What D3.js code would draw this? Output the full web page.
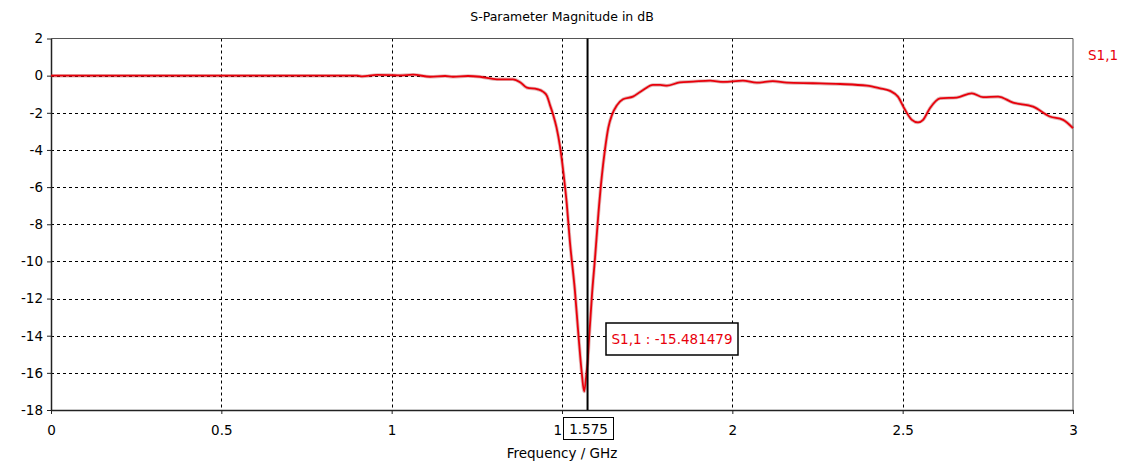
<html>
<head>
  <meta charset="utf-8">
  <script src="https://d3js.org/d3.v7.min.js"></script>
  <style>
    body { margin: 0; background: #fff; }
    text { font-family: "DejaVu Sans", Verdana, sans-serif; }
  </style>
</head>
<body>
  <svg id="chart" width="1126" height="464"></svg>
  <script>
    // S1,1 magnitude (dB)
    const freqs = [0, 0.5, 0.9, 0.913, 0.957, 0.995, 1.024, 1.063, 1.113, 1.157, 1.18, 1.224, 1.259, 1.309, 1.356,
      1.377, 1.397, 1.427, 1.444, 1.456, 1.465, 1.474, 1.484, 1.494, 1.504, 1.514, 1.523, 1.538, 1.548, 1.558,
      1.565, 1.572, 1.575, 1.58, 1.588, 1.597, 1.607, 1.617, 1.626, 1.636, 1.647, 1.661, 1.679, 1.708, 1.738,
      1.767, 1.788, 1.808, 1.846, 1.885, 1.935, 1.973, 2.031, 2.072, 2.119, 2.16, 2.237, 2.316, 2.395, 2.433,
      2.463, 2.486, 2.507, 2.527, 2.545, 2.56, 2.58, 2.61, 2.659, 2.703, 2.736, 2.78, 2.824, 2.883, 2.932,
      2.971, 3.0];
    const s11 = [0, 0, 0, -0.04, 0.04, 0.03, 0.01, 0.05, -0.06, -0.02, -0.06, -0.02, -0.06, -0.2, -0.2,
      -0.35, -0.65, -0.73, -0.86, -1.1, -1.6, -2.1, -2.8, -3.8, -5.2, -6.9, -8.9, -11.6, -13.9, -16.0,
      -17.0, -16.0, -15.48, -14.0, -11.8, -9.8, -7.4, -5.4, -4.0, -2.8, -2.1, -1.6, -1.27, -1.13, -0.77,
      -0.5, -0.5, -0.54, -0.36, -0.32, -0.27, -0.34, -0.27, -0.38, -0.3, -0.38, -0.41, -0.45, -0.54, -0.68,
      -0.82, -1.13, -1.84, -2.38, -2.52, -2.38, -1.75, -1.22, -1.18, -0.95, -1.16, -1.13, -1.45, -1.67, -2.2,
      -2.38, -2.83];

    const xTicks = [0, 0.5, 1, 1.5, 2, 2.5, 3];
    const yTicks = [2, 0, -2, -4, -6, -8, -10, -12, -14, -16, -18];
    const markerFreq = 1.575;
    const markerText = "S1,1 : -15.481479";

    const svg = d3.select("#chart");
    const pLeft = 51, pRight = 1073, pTop = 38.5, pBottom = 410;

    const x = d3.scaleLinear().domain([0, 3]).range([pLeft, pRight]);
    const y = d3.scaleLinear().domain([-18, 2]).range([pBottom, pTop]);

    // title
    svg.append("text")
      .attr("x", 562).attr("y", 21)
      .attr("text-anchor", "middle")
      .attr("font-size", 12.5)
      .text("S-Parameter Magnitude in dB");

    // grid
    const grid = svg.append("g").attr("stroke", "#000").attr("stroke-dasharray", "3,3").attr("stroke-width", 1);
    grid.selectAll("line.gx").data(xTicks.filter(d => d > 0 && d < 3))
      .join("line")
      .attr("class", "gx")
      .attr("x1", d => Math.round(x(d)) + 0.5).attr("x2", d => Math.round(x(d)) + 0.5)
      .attr("y1", pTop).attr("y2", pBottom);
    grid.selectAll("line.gy").data(yTicks.filter(d => d > -18 && d < 2))
      .join("line")
      .attr("class", "gy")
      .attr("x1", pLeft).attr("x2", pRight)
      .attr("y1", d => Math.round(y(d)) + 0.5).attr("y2", d => Math.round(y(d)) + 0.5);

    // frame top/right
    svg.append("path")
      .attr("d", `M${pLeft},${pTop}H${pRight}V${pBottom}`)
      .attr("fill", "none").attr("stroke", "#555").attr("stroke-width", 1);

    // axes
    const yAxis = svg.append("g")
      .attr("transform", `translate(${pLeft},0)`)
      .call(d3.axisLeft(y).tickValues(yTicks).tickSize(4).tickSizeOuter(0).tickFormat(d => String(d)));
    const xAxis = svg.append("g")
      .attr("transform", `translate(0,${pBottom})`)
      .call(d3.axisBottom(x).tickValues(xTicks).tickSize(4).tickSizeOuter(0).tickFormat(d => String(d)));
    [xAxis, yAxis].forEach(a => {
      a.select(".domain").attr("stroke", "#222").attr("stroke-width", 1.5);
      a.selectAll(".tick line").attr("stroke", "#222");
      a.selectAll(".tick text").attr("font-size", 13.5).attr("fill", "#000")
        .attr("font-family", "DejaVu Sans, Verdana, sans-serif");
    });
    yAxis.selectAll(".tick text").attr("x", -8);
    xAxis.selectAll(".tick text").attr("y", 15);

    // the marker box hides most of the 1.5 label; only its leading "1" shows
    const boxLeft = 563.5;
    xAxis.selectAll(".tick").filter(d => d === 1.5).select("text")
      .attr("text-anchor", "end")
      .attr("x", boxLeft - 2 - x(1.5))
      .text(d => String(d).split(".")[0]);

    // curve
    const pts = freqs.map((f, i) => [f, s11[i]]);
    const line = d3.line().x(d => x(d[0])).y(d => y(d[1])).curve(d3.curveMonotoneX);
    svg.append("path")
      .datum(pts)
      .attr("d", line)
      .attr("fill", "none")
      .attr("stroke", "#b03030").attr("stroke-opacity", 0.35)
      .attr("stroke-width", 3.5);
    svg.append("path")
      .datum(pts)
      .attr("d", line)
      .attr("fill", "none")
      .attr("stroke", "#e8000b")
      .attr("stroke-width", 1.8);

    // marker
    const mx = x(markerFreq);
    svg.append("line")
      .attr("x1", mx).attr("x2", mx).attr("y1", pTop).attr("y2", pBottom)
      .attr("stroke", "#000").attr("stroke-width", 2);

    svg.append("rect")
      .attr("x", 606).attr("y", 323).attr("width", 132).attr("height", 32)
      .attr("fill", "#fff").attr("stroke", "#000").attr("stroke-width", 1.5);
    svg.append("text")
      .attr("x", 672).attr("y", 344)
      .attr("text-anchor", "middle").attr("font-size", 13.5).attr("fill", "#e8000b")
      .text(markerText);

    // marker frequency box on x axis
    svg.append("rect")
      .attr("x", boxLeft).attr("y", 417.5).attr("width", 50).attr("height", 22)
      .attr("fill", "#fff").attr("stroke", "#000").attr("stroke-width", 1);
    svg.append("text")
      .attr("x", boxLeft + 25).attr("y", 433.5)
      .attr("text-anchor", "middle").attr("font-size", 13.5)
      .text(markerFreq);

    // x label
    svg.append("text")
      .attr("x", 562).attr("y", 458)
      .attr("text-anchor", "middle").attr("font-size", 13.5)
      .text("Frequency / GHz");

    // legend
    svg.append("text")
      .attr("x", 1088).attr("y", 60)
      .attr("font-size", 13.5).attr("fill", "#e8000b")
      .text("S1,1");
  </script>
</body>
</html>
